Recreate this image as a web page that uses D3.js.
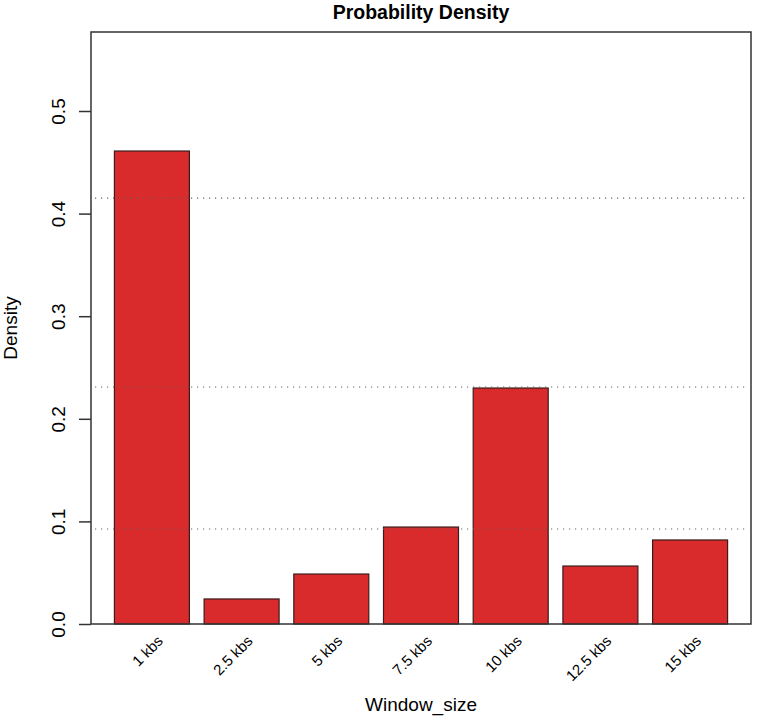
<!DOCTYPE html>
<html><head><meta charset="utf-8">
<script src="https://cdn.jsdelivr.net/npm/d3@7"></script>
<style>body{margin:0;background:#fff;} text{font-family:"Liberation Sans",Arial,sans-serif;}</style>
</head><body>
<svg id="chart" width="757" height="720"></svg>
<script>
const categories = ["1 kbs","2.5 kbs","5 kbs","7.5 kbs","10 kbs","12.5 kbs","15 kbs"];
const densities = [0.461, 0.0244, 0.0487, 0.0945, 0.230, 0.0565, 0.0819];
const refLines = [0.415, 0.231, 0.0926];
const yTicks = [0.0, 0.1, 0.2, 0.3, 0.4, 0.5];

const svg = d3.select("#chart");
const L = 91, R = 751, T = 32, B = 624;

const x = d3.scaleBand().domain(categories).range([L, R]).paddingInner(0.164).paddingOuter(0.261);
const y = d3.scaleLinear().domain([0, 0.577]).range([B, T]);

// bars
svg.append("g").selectAll("rect").data(densities).join("rect")
  .attr("x", (d,i) => x(categories[i]))
  .attr("y", d => y(d))
  .attr("width", x.bandwidth())
  .attr("height", d => B - y(d))
  .attr("fill", "#d92b2b")
  .attr("stroke", "#3a1c1c")
  .attr("stroke-width", 1.2);

// dotted reference lines
svg.append("g").selectAll("line").data(refLines).join("line")
  .attr("x1", L + 4).attr("x2", R - 4)
  .attr("y1", d => y(d)).attr("y2", d => y(d))
  .attr("stroke", "#666").attr("stroke-width", 1.2)
  .attr("stroke-dasharray", "1.2,4.8");

// box
svg.append("rect").attr("x", L).attr("y", T).attr("width", R - L).attr("height", B - T)
  .attr("fill", "none").attr("stroke", "#333").attr("stroke-width", 1.5);

// y axis
const yAxis = d3.axisLeft(y).tickValues(yTicks).tickFormat(d3.format(".1f")).tickSize(12).tickPadding(7);
const gy = svg.append("g").attr("transform", `translate(${L},0)`).call(yAxis);
gy.select(".domain").remove();
gy.selectAll(".tick line").attr("stroke", "#333").attr("stroke-width", 1.5);
gy.selectAll(".tick text")
  .attr("font-size", 19).attr("fill", "#000")
  .attr("text-anchor", "middle")
  .attr("dy", null)
  .attr("x", 0).attr("y", 0)
  .attr("transform", "translate(-26,0) rotate(-90)");

// x labels
svg.append("g").selectAll("text").data(categories).join("text")
  .attr("text-anchor", "end")
  .attr("font-size", 15).attr("fill", "#000")
  .attr("transform", d => `translate(${x(d) + x.bandwidth()/2 + 12},${B + 18}) rotate(-45)`)
  .text(d => d);

// titles
svg.append("text").attr("x", 421).attr("y", 18.5).attr("text-anchor", "middle")
  .attr("font-size", 19.5).attr("font-weight", "bold").attr("fill", "#000").text("Probability Density");
svg.append("text").attr("x", 421).attr("y", 711).attr("text-anchor", "middle")
  .attr("font-size", 19).attr("fill", "#000").text("Window_size");
svg.append("text").attr("transform", "translate(17,328) rotate(-90)").attr("text-anchor", "middle")
  .attr("font-size", 19).attr("fill", "#000").text("Density");
</script>
</body></html>
